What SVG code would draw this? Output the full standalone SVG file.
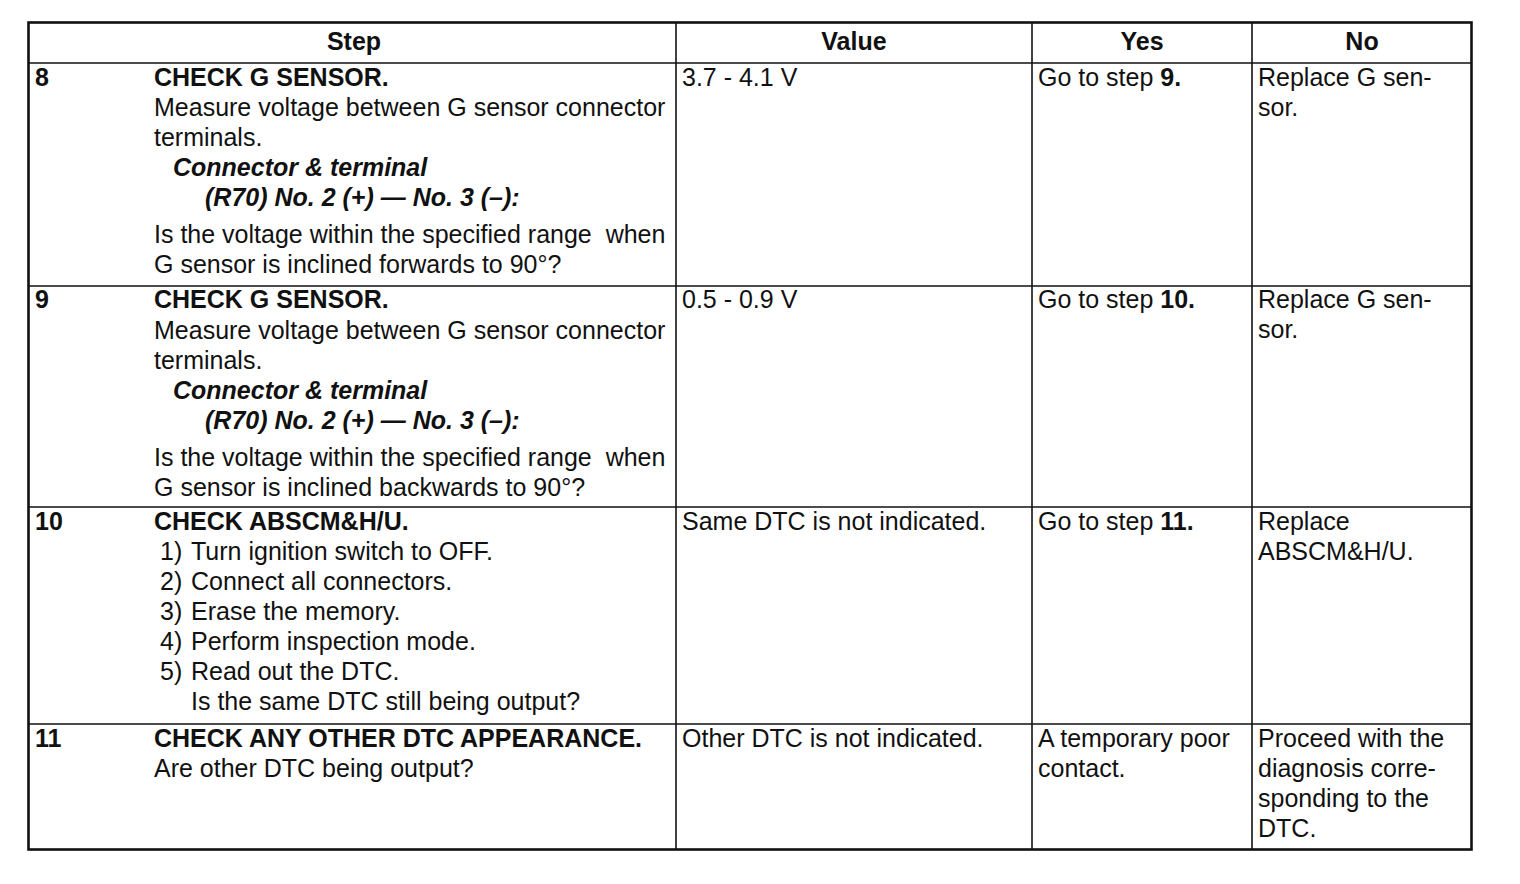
<svg xmlns="http://www.w3.org/2000/svg" width="1520" height="884" viewBox="0 0 1520 884">
<style>
text{font-family:"Liberation Sans",Arial,Helvetica,sans-serif;font-size:25px;fill:#111;white-space:pre}
.b{font-weight:bold}
.bi{font-weight:bold;font-style:italic}
.h{font-weight:bold;text-anchor:middle}
.grid line{stroke:#111;stroke-width:1.6}
.outer{fill:none;stroke:#111;stroke-width:2.6}
</style>
<rect width="1520" height="884" fill="#fff"/>
<g id="grid" class="grid">
<rect class="outer" x="28.5" y="22.5" width="1443" height="827"/>
<line x1="28" y1="63" x2="1472" y2="63"/>
<line x1="28" y1="286" x2="1472" y2="286"/>
<line x1="28" y1="507" x2="1472" y2="507"/>
<line x1="28" y1="724" x2="1472" y2="724"/>
<line x1="676" y1="22" x2="676" y2="850"/>
<line x1="1032" y1="22" x2="1032" y2="850"/>
<line x1="1252" y1="22" x2="1252" y2="850"/>
</g>
<g id="header">
<text class="h" x="354" y="50">Step</text>
<text class="h" x="854" y="50">Value</text>
<text class="h" x="1142" y="50">Yes</text>
<text class="h" x="1362" y="50">No</text>
</g>
<g id="step8">
<text class="b" x="35" y="86">8</text>
<text class="b" x="154" y="86">CHECK G SENSOR.</text>
<text x="154" y="116">Measure voltage between G sensor connector</text>
<text x="154" y="146">terminals.</text>
<text class="bi" x="173" y="176">Connector &amp; terminal</text>
<text class="bi" x="205" y="206">(R70) No. 2 (+) — No. 3 (–):</text>
<text x="154" y="243">Is the voltage within the specified range  when</text>
<text x="154" y="273">G sensor is inclined forwards to 90°?</text>
<text x="682" y="86">3.7 - 4.1 V</text>
<text x="1038" y="86">Go to step <tspan class="b">9.</tspan></text>
<text x="1258" y="86">Replace G sen-</text>
<text x="1258" y="116">sor.</text>
</g>
<g id="step9">
<text class="b" x="35" y="308">9</text>
<text class="b" x="154" y="308">CHECK G SENSOR.</text>
<text x="154" y="339">Measure voltage between G sensor connector</text>
<text x="154" y="369">terminals.</text>
<text class="bi" x="173" y="399">Connector &amp; terminal</text>
<text class="bi" x="205" y="429">(R70) No. 2 (+) — No. 3 (–):</text>
<text x="154" y="466">Is the voltage within the specified range  when</text>
<text x="154" y="496">G sensor is inclined backwards to 90°?</text>
<text x="682" y="308">0.5 - 0.9 V</text>
<text x="1038" y="308">Go to step <tspan class="b">10.</tspan></text>
<text x="1258" y="308">Replace G sen-</text>
<text x="1258" y="338">sor.</text>
</g>
<g id="step10">
<text class="b" x="35" y="530">10</text>
<text class="b" x="154" y="530">CHECK ABSCM&amp;H/U.</text>
<text x="160" y="560">1)</text><text x="191" y="560">Turn ignition switch to OFF.</text>
<text x="160" y="590">2)</text><text x="191" y="590">Connect all connectors.</text>
<text x="160" y="620">3)</text><text x="191" y="620">Erase the memory.</text>
<text x="160" y="650">4)</text><text x="191" y="650">Perform inspection mode.</text>
<text x="160" y="680">5)</text><text x="191" y="680">Read out the DTC.</text>
<text x="191" y="710">Is the same DTC still being output?</text>
<text x="682" y="530">Same DTC is not indicated.</text>
<text x="1038" y="530">Go to step <tspan class="b">11.</tspan></text>
<text x="1258" y="530">Replace</text>
<text x="1258" y="560">ABSCM&amp;H/U.</text>
</g>
<g id="step11">
<text class="b" x="35" y="747">11</text>
<text class="b" x="154" y="747">CHECK ANY OTHER DTC APPEARANCE.</text>
<text x="154" y="777">Are other DTC being output?</text>
<text x="682" y="747">Other DTC is not indicated.</text>
<text x="1038" y="747">A temporary poor</text>
<text x="1038" y="777">contact.</text>
<text x="1258" y="747">Proceed with the</text>
<text x="1258" y="777">diagnosis corre-</text>
<text x="1258" y="807">sponding to the</text>
<text x="1258" y="837">DTC.</text>
</g>
</svg>
